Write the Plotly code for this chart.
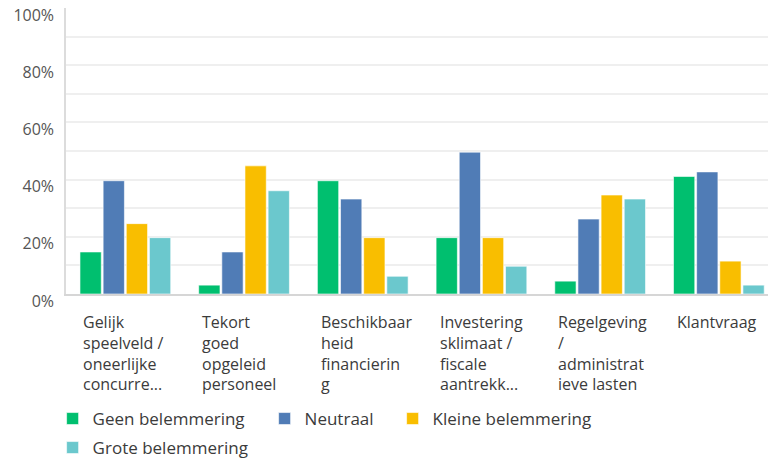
import plotly.graph_objects as go

categories = [
    "Gelijk speelveld / oneerlijke concurrentie",
    "Tekort goed opgeleid personeel",
    "Beschikbaarheid financiering",
    "Investeringsklimaat / fiscale aantrekkelijkheid",
    "Regelgeving / administratieve lasten",
    "Klantvraag",
]
category_labels = [
    ["Gelijk", "speelveld /", "oneerlijke", "concurre..."],
    ["Tekort", "goed", "opgeleid", "personeel"],
    ["Beschikbaar", "heid", "financierin", "g"],
    ["Investering", "sklimaat /", "fiscale", "aantrekk..."],
    ["Regelgeving", "/", "administrat", "ieve lasten"],
    ["Klantvraag"],
]
series_names = ["Geen belemmering", "Neutraal", "Kleine belemmering", "Grote belemmering"]
geen = [14.7, 3.1, 39.6, 19.7, 4.5, 41.1]
neutraal = [39.6, 14.7, 33.2, 49.6, 26.2, 42.7]
kleine = [24.6, 44.8, 19.7, 19.7, 34.6, 11.5]
grote = [19.7, 36.1, 6.2, 9.7, 33.2, 3.1]
series_values = [geen, neutraal, kleine, grote]
colors = ["#00BF6F", "#507CB6", "#F9BE00", "#6BC8CD"]
y_tick_values = [0, 20, 40, 60, 80, 100]
y_tick_text = ["0%", "20%", "40%", "60%", "80%", "100%"]
grid_values = [10, 20, 30, 40, 50, 60, 70, 80, 90]

FONT = "Open Sans"
x_idx = list(range(len(categories)))

# one legend per series so the entries sit where the reference puts them
legend_ids = ["legend", "legend2", "legend3", "legend4"]
legend_pos = [(52.6, 401), (264.6, 401), (392.6, 401), (52.6, 430)]  # container px (left, top)

fig = go.Figure()
for name, vals, col, lid in zip(series_names, series_values, colors, legend_ids):
    fig.add_trace(go.Bar(
        x=x_idx, y=vals, name=name, legend=lid,
        marker=dict(color=col, line=dict(color="rgba(255,255,255,0.6)", width=1)),
        hovertext=categories,
    ))

for i, lines in enumerate(category_labels):
    fig.add_annotation(
        x=i - 0.37, xref="x", y=0, yref="paper",
        text="<br>".join(lines), showarrow=False,
        xanchor="left", yanchor="top", align="left",
        yshift=-15,
        font=dict(family=FONT, size=16, color="#3b3b3b"),
    )

W, H = 768, 459
legend_layout = {}
for lid, (lx, ly) in zip(legend_ids, legend_pos):
    legend_layout[lid] = dict(
        orientation="h", xref="container", yref="container",
        x=lx / W, y=1 - ly / H, xanchor="left", yanchor="top",
        font=dict(family=FONT, size=17, color="#3b3b3b"),
        bgcolor="rgba(0,0,0,0)",
    )

fig.update_layout(
    width=W, height=H,
    margin=dict(l=66, r=0, t=8, b=165),
    paper_bgcolor="white", plot_bgcolor="white",
    barmode="group", bargap=0.22, bargroupgap=0.08,
    showlegend=True,
    xaxis=dict(
        range=[-0.5, 5.414], showticklabels=False, showgrid=False,
        showline=True, linecolor="#d6d6d6", linewidth=2, zeroline=False,
        fixedrange=True, automargin=False,
    ),
    yaxis=dict(
        range=[0, 100], tickvals=y_tick_values, ticktext=y_tick_text,
        showgrid=False, zeroline=False, automargin=False,
        showline=True, linecolor="#dcdcdc", linewidth=1.5,
        tickfont=dict(family=FONT, size=16, color="#555555"),
        ticklabelshift=7, ticklabelstandoff=7, ticklabeloverflow="allow",
        minor=dict(tickvals=grid_values, showgrid=True, gridcolor="#efefef", gridwidth=2),
    ),
    **legend_layout,
)

fig.write_html(
    "out.html",
    config={"displayModeBar": False},
    post_script="document.body.style.margin='0px';",
)
